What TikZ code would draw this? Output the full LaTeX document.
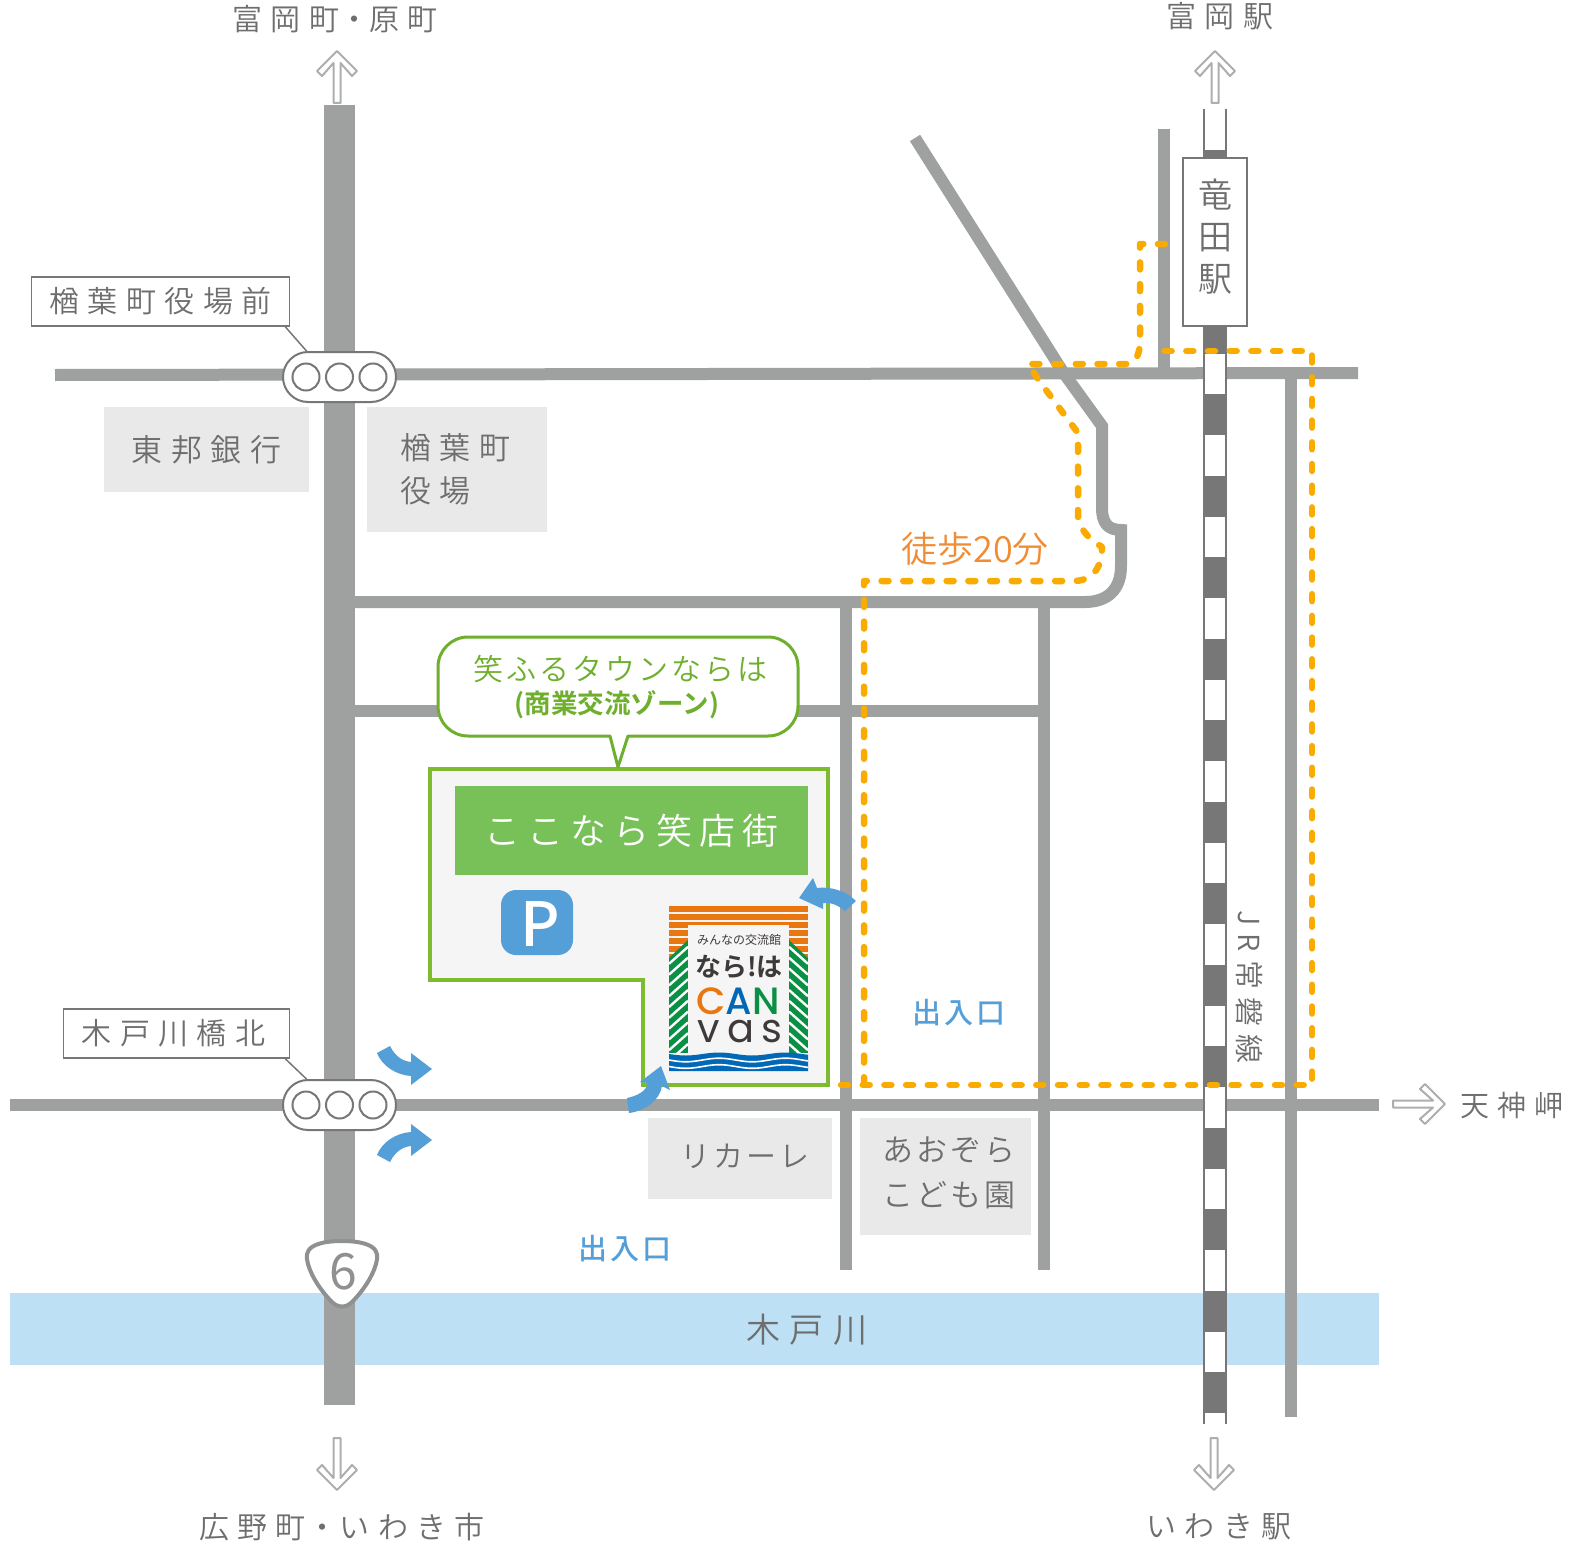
\documentclass[tikz,border=0pt]{standalone}
\usepackage{fontspec}
\usepackage{xcolor}
\usetikzlibrary{calc, shapes.misc}

\IfFontExistsTF{Noto Sans CJK JP DemiLight}{\def\JPname{Noto Sans CJK JP DemiLight}}{\def\JPname{Noto Sans CJK JP}}
\IfFontExistsTF{Noto Sans CJK JP Medium}{\def\JPmed{Noto Sans CJK JP Medium}}{\def\JPmed{Noto Sans CJK JP}}
\IfFontExistsTF{Poppins Medium}{\def\POPname{Poppins Medium}}{\def\POPname{Poppins}}
\newfontfamily\jpfont[BoldFont={Noto Sans CJK JP Bold}]{\JPname}
\newfontfamily\jpwide[LetterSpace=28]{\JPname}
\newfontfamily\jpban[LetterSpace=19]{\JPname}
\newfontfamily\jpmid[LetterSpace=10]{\JPname}
\newfontfamily\jpmed[LetterSpace=10]{\JPmed}
\newfontfamily\jpreg{Noto Sans CJK JP}
\newfontfamily\popfont{\POPname}
\newfontfamily\popwide[LetterSpace=18]{Poppins}
\newfontfamily\popcan[LetterSpace=3]{\POPname}

\definecolor{roadgray}{HTML}{9FA0A0}
\definecolor{textgray}{HTML}{6E6E6E}
\definecolor{linegray}{HTML}{777777}
\definecolor{boxgray}{HTML}{E9E9E9}
\definecolor{rivercol}{HTML}{BDE0F4}
\definecolor{routecol}{HTML}{F9AB00}
\definecolor{walkcol}{HTML}{F08C33}
\definecolor{zonegreen}{HTML}{7DBB2F}
\definecolor{calloutgreen}{HTML}{6FAF2E}
\definecolor{bannergreen}{HTML}{78C159}
\definecolor{zonefill}{HTML}{F5F5F5}
\definecolor{arrowblue}{HTML}{559FD9}
\definecolor{logoorange}{HTML}{EA7610}
\definecolor{logogreen}{HTML}{0A9045}
\definecolor{logoblue}{HTML}{0068B7}
\definecolor{logodark}{HTML}{3E3A39}

\tikzset{
	lbl/.style={text=textgray, inner sep=0pt, font=\jpwide\fontsize{30}{36}\selectfont},
	signbox/.style={lbl, draw=linegray, line width=1.6pt, fill=white, minimum height=49pt},
	placebox/.style={lbl, fill=boxgray, font=\jpwide\fontsize{31}{43}\selectfont},
	signal/.style={rounded rectangle, draw=linegray, line width=2pt, fill=white, minimum width=113pt, minimum height=50pt, inner sep=0pt},
	lamp/.style={circle, draw=linegray, line width=2pt, fill=white, minimum size=27pt, inner sep=0pt},
	leader/.style={draw=linegray, line width=1.5pt},
	road/.style={draw=roadgray, line width=12pt},
	route/.style={draw=routecol, line width=6.5pt, line cap=round, line join=round, dash pattern=on 7pt off 14.7pt},
	holarrow/.style={draw=roadgray!85!white, line width=2pt, fill=white, line join=round},
	flowarrow/.style={fill=arrowblue},
	gateword/.style={text=arrowblue, inner sep=0pt, font=\jpmed\fontsize{29}{34}\selectfont}
}

\begin{document}
\begin{tikzpicture}[x=1pt, y=-1pt]
	\def\RailL{1203};
	\def\RailR{1227};

	\useasboundingbox [fill=white] (0,0) rectangle (1572,1544);

	\fill [rivercol] (10,1293) rectangle (1379,1365);

	\begin{scope}[road]
		\draw (55,375) -- (1358,373);
		\draw (10,1105) -- (1379,1105);
		\draw (354,711) -- (1044,711);
		\draw (846,603) -- (846,1270);
		\draw (1044,603) -- (1044,1270);
		\draw (1164,129) -- (1164,373);
		\draw (1291,373) -- (1291,1417);
		\draw [line join=miter] (915,138) -- (1063,372) -- (1102,426) -- (1102,508) .. controls (1102,523) and (1108,530) .. (1121,530) -- (1121,566) .. controls (1121,590) and (1107,602) .. (1085,602) -- (354,602);
		\draw [line width=31pt] (339.5,105) -- (339.5,1405);
	\end{scope}

	\fill [white] (\RailL,109) rectangle (\RailR,1424);
	\draw [linegray, line width=2.4pt] (\RailL+1.2,109) -- (\RailL+1.2,1424);
	\draw [linegray, line width=2.4pt] (\RailR-1.2,109) -- (\RailR-1.2,1424);
	\fill [linegray] (\RailL,150) rectangle (\RailR,354);
	\foreach \k in {0,...,12}
		\fill [linegray] (\RailL,{394+81.5*\k}) rectangle (\RailR,{435+81.5*\k});

	\filldraw [draw=zonegreen, fill=zonefill, line width=3.6pt] (430,769) -- (828,769) -- (828,1085) -- (643,1085) -- (643,980) -- (430,980) -- cycle;

	\draw [draw=calloutgreen, fill=white, line width=3pt, line join=round] (618,767) -- (628,736) [rounded corners=30pt] -- (798,736) -- (798,637) -- (438,637) -- (438,736) [sharp corners] -- (610,736) -- cycle;

	\node (canopy) [text=calloutgreen, inner sep=0pt, font=\jpmid\fontsize{30}{36}\selectfont] at (620,669) {笑ふるタウンならは};
	\node (zone) [text=calloutgreen, inner sep=0pt, font=\jpfont\bfseries\fontsize{26.5}{30}\selectfont] at (617,705) {(商業交流ゾーン)};

	\node (banner) [fill=bannergreen, text=white, minimum width=353pt, minimum height=89pt, inner sep=0pt, font=\jpban\fontsize{36}{44}\selectfont] at (631.5,830.5) {ここなら笑店街};

	\node (parking) [fill=arrowblue, rounded corners=15pt, minimum width=72pt, minimum height=65pt, inner sep=0pt] at (537,922.5) {};
	\node (parkingP) [inner sep=0pt, text=white, font=\jpmed\fontsize{61}{64}\selectfont] at ($(parking)+(3,2)$) {P};

	\begin{scope}
		\foreach \k in {0,...,6}
			\fill [logoorange] (669,{906+8*\k}) rectangle (808,{911.6+8*\k});
		\fill [zonefill] (688,925) rectangle (789,1053);
		\begin{scope}
			\clip (669,958) -- (688,940) -- (688,1053) -- (669,1053) -- cycle;
			\fill [logogreen] (669,938) rectangle (688,1053);
			\foreach \k in {0,...,11}
				\draw [white, line width=2.4pt] (669,{953+10.8*\k}) -- (688,{936+10.8*\k});
		\end{scope}
		\begin{scope}
			\clip (808,958) -- (789,940) -- (789,1053) -- (808,1053) -- cycle;
			\fill [logogreen] (789,938) rectangle (808,1053);
			\foreach \k in {0,...,11}
				\draw [white, line width=2.4pt] (808,{953+10.8*\k}) -- (789,{936+10.8*\k});
		\end{scope}
		\fill [logoblue] plot [domain=669:808, samples=50] (\x,{1054+1.5*sin(5.4*(\x-669))}) -- (808,1071) -- (669,1071) -- cycle;
		\draw [white, line width=1.6pt] plot [domain=669:808, samples=50] (\x,{1060+1.8*sin(5.4*(\x-669))});
		\draw [white, line width=1.6pt] plot [domain=669:808, samples=50] (\x,{1066.5+1.8*sin(5.4*(\x-669))});

		\node (logotop) [text=logodark, inner sep=0pt, font=\jpreg\fontsize{12}{14}\selectfont] at (739,940) {みんなの交流館};
		\node (logonara) [text=logodark, inner sep=0pt, font=\jpfont\bfseries\fontsize{26}{30}\selectfont] at (739,967) {なら!は};
		\node (logocan) [inner sep=0pt, font=\popcan\fontsize{38}{42}\selectfont] at (738,1001) {\textcolor{logoorange}{C}\textcolor{logoblue}{A}\textcolor{logogreen}{N}};
		\node (logovas) [text=logodark, inner sep=0pt, font=\popwide\fontsize{40}{44}\selectfont] at (740,1032) {vas};
	\end{scope}

	\filldraw [draw=linegray, fill=white, line width=2.6pt] (1183,158) rectangle (1247,326);
	\node (station) [text=textgray, inner sep=0pt, align=center, font=\jpfont\fontsize{34}{42}\selectfont] at (1215,237) {竜\\田\\駅};

	\draw [route] (1165,244) -- (1140,244) -- (1140,340) .. controls (1140,354) and (1136,364) .. (1126,364) -- (1028,364) -- (1040,382) -- (1078,433) -- (1078,517) .. controls (1080,530) and (1090,540) .. (1102,547) .. controls (1102,565) and (1095,580) .. (1075,581) -- (864,581) -- (864,1085);
	\draw [route] (841,1085) -- (1312,1085) -- (1312,351) -- (1162,351);

	\node (sigA) [signal] at (339.5,377) {};
	\node (sigB) [signal] at (339.5,1105) {};
	\foreach \s in {sigA, sigB}
		\foreach \d in {-33.5,0,33.5}
			\node [lamp] at ($(\s)+(\d,0)$) {};

	\node (boxA) [signbox, minimum width=258pt] at (160.5,301.5) {楢葉町役場前};
	\node (boxB) [signbox, minimum width=226pt] at (176.5,1033.5) {木戸川橋北\kern6pt};
	\draw [leader] ($(boxA.south east)+(-5,0)$) -- ($(sigA.north)+(-33,0)$);
	\draw [leader] ($(boxB.south east)+(-5,0)$) -- ($(sigB.north)+(-33,0)$);

	\node (toho) [placebox, minimum width=205pt, minimum height=85pt] at (206.5,449.5) {東邦銀行};
	\node (office) [placebox, inner xsep=33pt, text width=114pt, minimum height=125pt, align=left] at (457,469.5) {楢葉町\\役場};
	\node (liquor) [fill=boxgray, minimum width=184pt, minimum height=81pt] at (740,1158.5) {};
	\node (liquorname) [lbl, font=\jpmid\fontsize{30}{36}\selectfont] at ($(liquor)+(5,-2)$) {リカーレ};
	\node (nursery) [fill=boxgray, minimum width=171pt, minimum height=117pt] at (945,1176.5) {};
	\node (nurseryname) [lbl, font=\jpmid\fontsize{31}{45}\selectfont, align=center] at ($(nursery)+(4,-4)$) {あおぞら\\こども園};

	\node (river) [lbl, font=\jpwide\fontsize{34}{40}\selectfont] at (807,1330) {木戸川};
	\node (line) [lbl, rotate=-90, font=\jpwide\fontsize{29}{34}\selectfont] at (1250,987) {JR常磐線};
	\node (walk) [text=walkcol, inner sep=0pt, font=\jpfont\fontsize{36}{42}\selectfont] at (975,549) {徒歩20分};
	\node (gateE) [gateword] at (959,1013) {出入口};
	\node (gateS) [gateword] at (625,1249) {出入口};

	\node (north) [lbl] at (335,19) {富岡町\kern0pt・\kern0pt原町};
	\node (northE) [lbl] at (1220,16) {富岡駅};
	\node (south) [lbl] at (342,1527) {広野町\kern2pt・\kern2ptいわき市};
	\node (southE) [lbl] at (1219,1527) {いわき駅};
	\node (east) [lbl, font=\jpwide\fontsize{29}{34}\selectfont] at (1512,1105) {天神岬};

	\foreach \ax/\ay/\ang in {337/51/90, 1215/51/90, 337/1490/-90, 1214/1490/-90, 1445/1104/0}
		\draw [holarrow, shift={(\ax,\ay)}, rotate=\ang] (0,0) -- (-20,-20) -- (-25,-15) -- (-12,-3.5) -- (-52,-3.5) -- (-52,3.5) -- (-12,3.5) -- (-25,15) -- (-20,20) -- cycle;

	\begin{scope}[flowarrow]
		\fill (799,898) -- (813,878) -- (817,888) .. controls (832,886) and (847,892) .. (856,901) -- (845,911) .. controls (838,905) and (830,902) .. (823,903) -- (823,909) -- cycle;
		\fill (661,1066) -- (670,1090) -- (662,1086) .. controls (660,1100) and (645,1111) .. (629,1113) -- (627,1098) .. controls (636,1096) and (646,1092) .. (648,1083) -- (640,1082) -- cycle;
		\fill (377,1053) -- (390,1046) .. controls (395,1056) and (402,1061) .. (411,1062) -- (411,1053) -- (432,1069) -- (411,1085) -- (411,1076) .. controls (396,1075) and (382,1066) .. (377,1053) -- cycle;
		\fill (377,1155) .. controls (382,1142) and (396,1133) .. (411,1132) -- (411,1124) -- (432,1140) -- (411,1156) -- (411,1146) .. controls (402,1147) and (395,1152) .. (390,1162) -- cycle;
	\end{scope}

	\filldraw [draw=roadgray!90!black, fill=white, line width=4pt] (342,1241) .. controls (356,1241) and (366,1243) .. (372,1247) .. controls (378,1251) and (378,1257) .. (376,1264) .. controls (372,1278) and (362,1292) .. (352,1302) .. controls (346,1308) and (338,1308) .. (332,1302) .. controls (322,1292) and (312,1278) .. (308,1264) .. controls (306,1257) and (306,1251) .. (312,1247) .. controls (318,1243) and (328,1241) .. (342,1241) -- cycle;
	\node (route6) [text=roadgray!90!black, inner sep=0pt, font=\jpreg\fontsize{50}{54}\selectfont] at (343,1272) {6};
\end{tikzpicture}
\end{document}
